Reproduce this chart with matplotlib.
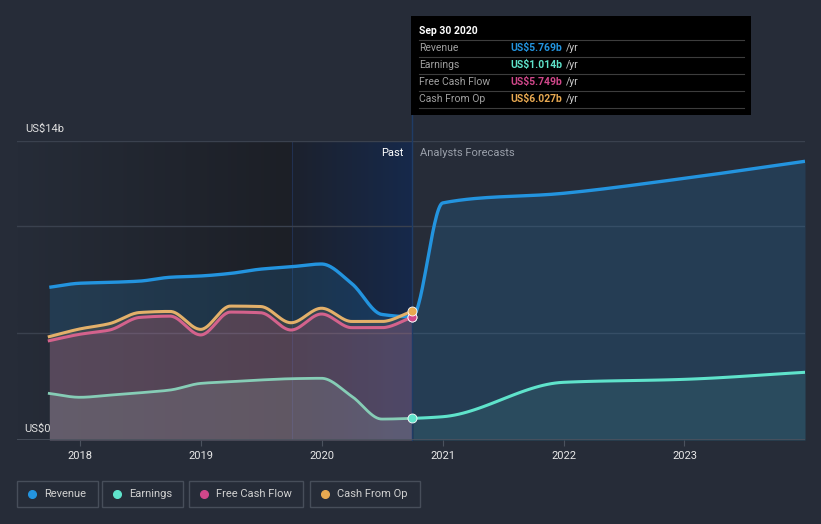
import numpy as np
import pandas as pd
import matplotlib
matplotlib.use('Agg')
import matplotlib.pyplot as plt
from matplotlib.patches import Rectangle
from matplotlib.lines import Line2D
from matplotlib.text import Annotation
from matplotlib.colors import LinearSegmentedColormap

plt.rcParams['font.family'] = ['Roboto', 'DejaVu Sans']

# datos (miles de millones de US$)
past_dates = ['2017-09-30', '2017-12-31', '2018-03-31', '2018-06-30', '2018-09-30',
              '2018-12-31', '2019-03-31', '2019-06-30', '2019-09-30', '2019-12-31',
              '2020-03-31', '2020-06-30', '2020-09-30']
fc_dates = ['2020-12-31', '2021-12-31', '2022-12-31', '2023-12-31']

revenue_past = [7.15, 7.34, 7.38, 7.44, 7.62, 7.68, 7.80, 8.00, 8.11, 8.24, 7.33, 5.88, 5.769]
revenue_fc = [11.10, 11.55, 12.25, 13.05]
earnings_past = [2.18, 2.00, 2.10, 2.21, 2.34, 2.65, 2.73, 2.81, 2.87, 2.89, 2.05, 0.98, 1.014]
earnings_fc = [1.09, 2.70, 2.84, 3.17]
fcf_past = [4.65, 4.95, 5.15, 5.74, 5.80, 4.92, 5.99, 5.96, 5.15, 5.90, 5.26, 5.26, 5.749]
cfo_past = [4.84, 5.20, 5.45, 5.97, 6.02, 5.18, 6.27, 6.25, 5.49, 6.17, 5.55, 5.55, 6.027]

years = [2018, 2019, 2020, 2021, 2022, 2023]
y_labels = ['US$0', 'US$14b']

tooltip_title = 'Sep 30 2020'
tooltip_names = ['Revenue', 'Earnings', 'Free Cash Flow', 'Cash From Op']
tooltip_values = ['US$5.769b', 'US$1.014b', 'US$5.749b', 'US$6.027b']

C_REV = '#2394df'
C_EARN = '#5fe3cb'
C_FCF = '#d0478a'
C_CFO = '#e8a951'
BG = '#262c38'


def dec_year(dates):
    d = pd.to_datetime(dates)
    return np.array(d.year + (d.dayofyear - 1) / 365.0)


def monotone(x, y, n=30):
    # curva monótona (tipo d3 curveMonotoneX) solo para dibujar
    x = np.asarray(x, float)
    y = np.asarray(y, float)
    h = np.diff(x)
    d = np.diff(y) / h
    m = np.zeros(len(x))
    m[0], m[-1] = d[0], d[-1]
    for k in range(1, len(x) - 1):
        if d[k - 1] * d[k] <= 0:
            m[k] = 0
        else:
            w1 = 2 * h[k] + h[k - 1]
            w2 = h[k] + 2 * h[k - 1]
            m[k] = (w1 + w2) / (w1 / d[k - 1] + w2 / d[k])
    xs, ys = [], []
    for k in range(len(x) - 1):
        t = np.linspace(0, 1, n, endpoint=False)
        h00 = 2 * t**3 - 3 * t**2 + 1
        h10 = t**3 - 2 * t**2 + t
        h01 = -2 * t**3 + 3 * t**2
        h11 = t**3 - t**2
        xs.append(x[k] + t * h[k])
        ys.append(h00 * y[k] + h10 * h[k] * m[k] + h01 * y[k + 1] + h11 * h[k] * m[k + 1])
    xs.append([x[-1]])
    ys.append([y[-1]])
    return np.concatenate(xs), np.concatenate(ys)


xp = dec_year(past_dates)
xf = dec_year(fc_dates)
x_all = np.concatenate([xp, xf])
x_now = xp[-1]

fig = plt.figure(figsize=(8.21, 5.24), dpi=100, facecolor=BG)
W, H = 821.0, 524.0
ax = fig.add_axes([17 / W, 1 - 440 / H, (805 - 17) / W, (440 - 141) / H])
ax.set_facecolor(BG)
x0 = 2017.478
x1 = x_all[-1]
ax.set_xlim(x0, x1)
ax.set_ylim(0, 14)

# fondo pasado
grad = np.linspace(0, 1, 256).reshape(1, -1)
cm_dark = LinearSegmentedColormap.from_list('d', [BG, '#1c1f26'])
ax.imshow(grad, extent=[x0, 2019.75, 0, 14], aspect='auto', cmap=cm_dark, zorder=0)
cm_blue = LinearSegmentedColormap.from_list('b', ['#1c212d', '#16294b'])
ax.imshow(grad, extent=[2019.75, x_now, 0, 14], aspect='auto', cmap=cm_blue, zorder=0)
ax.axvline(2019.75, color='#203050', lw=0.8, zorder=0.5)

# rejilla
for g in [5, 10, 14]:
    ax.axhline(g, color='#3a414e', lw=1, zorder=0.6)
ax.axhline(0, color='#4b525e', lw=1.2, zorder=6)

# curvas
rx, ry = monotone(x_all, revenue_past + revenue_fc)
ex, ey = monotone(x_all, earnings_past + earnings_fc)
fx, fy = monotone(xp, fcf_past)
cx, cy = monotone(xp, cfo_past)
past = ex <= x_now + 1e-9

ax.fill_between(rx, ry, 0, color=C_REV, alpha=0.17, lw=0, zorder=1)
ax.fill_between(cx, cy, 0, color=C_CFO, alpha=0.13, lw=0, zorder=1.1)
ax.fill_between(fx, fy, 0, color=C_FCF, alpha=0.18, lw=0, zorder=1.2)
ax.fill_between(ex[past], ey[past], 0, color='#b8d8d0', alpha=0.14, lw=0, zorder=1.3)
ax.fill_between(ex[~past], ey[~past], 0, color=C_EARN, alpha=0.09, lw=0, zorder=1.3)

ax.plot(rx, ry, color=C_REV, lw=2.4, zorder=3, solid_capstyle='butt')
ax.plot(ex[past], ey[past], color='#86cdb6', lw=2.0, zorder=3)
ax.plot(ex[~past], ey[~past], color=C_EARN, lw=2.2, zorder=3)
ax.plot(fx, fy, color='#d4628c', lw=2.2, zorder=3.1)
ax.plot(cx, cy, color='#e3b06a', lw=2.2, zorder=3.2)

# línea del presente
ax.plot([x_now, x_now], [0, 15.22], color='#1f3c66', lw=1.0, zorder=2, clip_on=False)

ax.scatter([x_now], [revenue_past[-1]], s=42, color=C_REV, edgecolor='white', lw=0.6, zorder=4)
ax.scatter([x_now], [fcf_past[-1]], s=42, color=C_FCF, edgecolor='white', lw=0.6, zorder=4.1)
ax.scatter([x_now], [cfo_past[-1]], s=42, color=C_CFO, edgecolor='white', lw=0.6, zorder=4.2)
ax.scatter([x_now], [earnings_past[-1]], s=42, color=C_EARN, edgecolor='white', lw=0.6, zorder=4.3)

ax.text(x_now - 0.07, 13.45, 'Past', color='white', fontsize=8, ha='right', va='center', zorder=5)
ax.text(x_now + 0.065, 13.45, 'Analysts Forecasts', color='#9aa0aa', fontsize=8,
        ha='left', va='center', zorder=5)

# ejes
for s in ax.spines.values():
    s.set_visible(False)
ax.set_yticks([])
ax.set_xticks(years)
ax.set_xticklabels([str(y) for y in years], color='#e8e8e8', fontsize=8)
ax.tick_params(axis='x', length=4, color='#4b525e', pad=4)

fig.text(25 / W, 1 - 129 / H, y_labels[1], color='#e0e0e0', fontsize=8, va='center')
fig.text(24 / W, 1 - 429 / H, y_labels[0], color='#e0e0e0', fontsize=8, va='center', zorder=7)

# tooltip
fig.patches.append(Rectangle((411 / W, 1 - 115 / H), 340 / W, 99 / H, transform=fig.transFigure,
                             facecolor='black', edgecolor='none', zorder=8))
fig.text(419 / W, 1 - 31 / H, tooltip_title, color='white', fontsize=7.5, fontweight='bold',
         va='center', zorder=9)
val_colors = [C_REV, C_EARN, C_FCF, C_CFO]
for i in range(4):
    yl = 40 + 17 * i
    fig.add_artist(Line2D([419 / W, 744 / W], [1 - yl / H, 1 - yl / H], color='#3d3d3d', lw=0.8, zorder=9))
    yt = 48 + 17 * i
    fig.text(419 / W, 1 - yt / H, tooltip_names[i], color='#a0a0a0', fontsize=7.5, va='center', zorder=9)
    t = fig.text(510 / W, 1 - yt / H, tooltip_values[i], color=val_colors[i], fontsize=7.5,
                 fontweight='bold', va='center', zorder=9)
    a = Annotation('/yr', xy=(1, 0.5), xycoords=t, xytext=(3, 0), textcoords='offset points',
                   color='#c8c8c8', fontsize=7.5, va='center', ha='left', annotation_clip=False)
    a.set_zorder(9)
    fig.add_artist(a)
fig.add_artist(Line2D([419 / W, 744 / W], [1 - 108 / H, 1 - 108 / H], color='#3d3d3d', lw=0.8, zorder=9))

# leyenda
boxes = [(17, 98), (102, 183), (189, 303), (310, 420)]
for (bx0, bx1), name, c in zip(boxes, tooltip_names, val_colors):
    fig.patches.append(Rectangle((bx0 / W, 1 - 507 / H), (bx1 - bx0) / W, 26 / H,
                                 transform=fig.transFigure, facecolor='none',
                                 edgecolor='#474e5a', lw=1))
    fig.add_artist(Line2D([(bx0 + 15) / W], [1 - 494 / H], marker='o', ms=5.5, color=c, lw=0))
    fig.text((bx0 + 27) / W, 1 - 494 / H, name, color='#d0d0d0', fontsize=8, va='center')

plt.savefig('out.png', dpi=100, facecolor=BG)
